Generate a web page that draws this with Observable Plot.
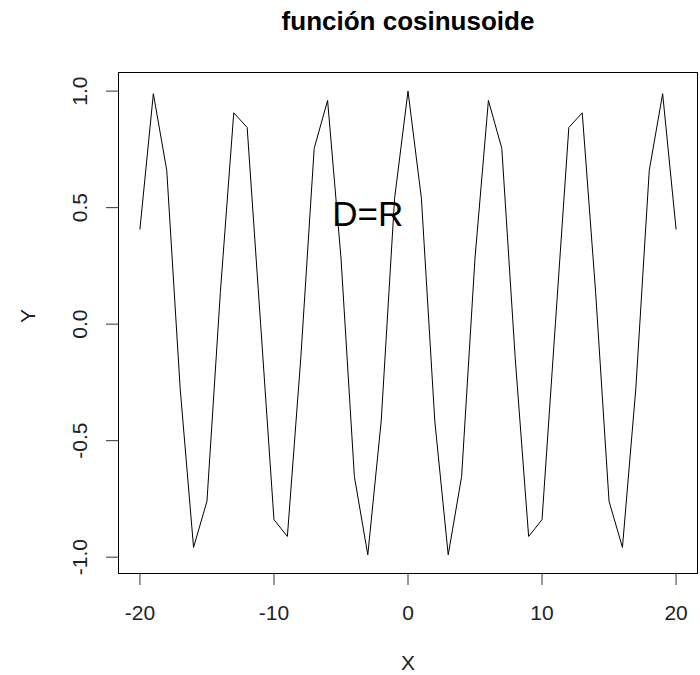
<!DOCTYPE html>
<html>
<head>
<meta charset="utf-8">
<script src="https://cdn.jsdelivr.net/npm/d3@7"></script>
<script src="https://cdn.jsdelivr.net/npm/@observablehq/plot@0.6"></script>
<style>
  html, body { margin: 0; padding: 0; background: #fff; }
  svg { display: block; }
</style>
</head>
<body>
<div id="chart"></div>
<script>
const xs = [-20,-19,-18,-17,-16,-15,-14,-13,-12,-11,-10,-9,-8,-7,-6,-5,-4,-3,-2,-1,0,1,2,3,4,5,6,7,8,9,10,11,12,13,14,15,16,17,18,19,20];
const ys = [0.408,0.989,0.660,-0.275,-0.958,-0.760,0.137,0.907,0.844,0.004,-0.839,-0.911,-0.146,0.754,0.960,0.284,-0.654,-0.990,-0.416,0.540,1.000,0.540,-0.416,-0.990,-0.654,0.284,0.960,0.754,-0.146,-0.911,-0.839,0.004,0.844,0.907,0.137,-0.760,-0.958,-0.275,0.660,0.989,0.408];
const xTicks = [-20,-10,0,10,20];
const yTicks = [-1.0,-0.5,0.0,0.5,1.0];
const title = "función cosinusoide";
const xLabel = "X";
const yLabel = "Y";
const note = {x: -3, y: 0.47, text: "D=R"};

const data = xs.map((x, i) => ({x, y: ys[i]}));
const font = "Liberation Sans, Arial, sans-serif";

const plot = Plot.plot({
  width: 700,
  height: 675,
  marginLeft: 118,
  marginRight: 3,
  marginTop: 72,
  marginBottom: 102,
  style: {fontFamily: font, background: "#fff"},
  x: {domain: [-21.6, 21.6]},
  y: {domain: [-1.07, 1.08]},
  marks: [
    Plot.frame({stroke: "#000", strokeWidth: 1}),
    Plot.line(data, {x: "x", y: "y", stroke: "#000", strokeWidth: 1}),
    Plot.axisX({ticks: xTicks, tickSize: 12, tickFormat: () => "", stroke: "#333", label: null}),
    Plot.axisY({ticks: yTicks, tickSize: 12, tickFormat: () => "", stroke: "#333", label: null}),
    Plot.text(xTicks, {x: d => d, text: d => String(d), frameAnchor: "bottom", dy: 40, fontSize: 21, fill: "#222", textAnchor: "middle", lineAnchor: "middle"}),
    Plot.text(yTicks, {y: d => d, text: d => d.toFixed(1), frameAnchor: "left", dx: -38, rotate: -90, fontSize: 21, fill: "#222", textAnchor: "middle", lineAnchor: "middle"}),
    Plot.text([note], {x: "x", y: "y", text: "text", fontSize: 35, fill: "#000", textAnchor: "middle", lineAnchor: "middle"}),
    Plot.text([title], {text: d => d, frameAnchor: "top", dy: -51, fontSize: 26, fontWeight: "bold", fill: "#000", lineAnchor: "middle"}),
    Plot.text([xLabel], {text: d => d, frameAnchor: "bottom", dy: 90, fontSize: 21, fill: "#222", lineAnchor: "middle"}),
    Plot.text([yLabel], {text: d => d, frameAnchor: "left", dx: -90, rotate: -90, fontSize: 21, fill: "#222", lineAnchor: "middle"})
  ]
});
document.getElementById("chart").appendChild(plot);
</script>
</body>
</html>
